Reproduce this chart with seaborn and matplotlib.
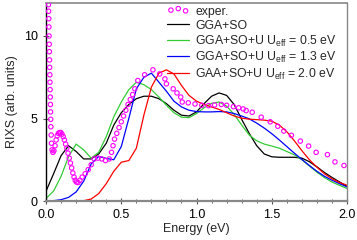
import numpy as np
import pandas as pd
import matplotlib
matplotlib.use('Agg')
import matplotlib.pyplot as plt
import seaborn as sns

# ── Data ──────────────────────────────────────────────────
energy = [0.00, 0.05, 0.10, 0.15, 0.20, 0.25, 0.30, 0.35, 0.40, 0.45,
          0.50, 0.55, 0.60, 0.65, 0.70, 0.75, 0.80, 0.85, 0.90, 0.95,
          1.00, 1.05, 1.10, 1.15, 1.20, 1.25, 1.30, 1.35, 1.40, 1.45,
          1.50, 1.55, 1.60, 1.65, 1.70, 1.75, 1.80, 1.85, 1.90, 1.95, 2.00]

gga_so = [0.60, 1.65, 2.75, 3.35, 3.00, 2.55, 2.55, 2.85, 3.50, 4.60,
          5.35, 5.85, 6.20, 6.35, 6.35, 6.20, 5.90, 5.50, 5.20, 5.15,
          5.40, 5.90, 6.35, 6.55, 6.40, 5.85, 4.95, 4.10, 3.35, 2.85,
          2.68, 2.65, 2.65, 2.65, 2.60, 2.38, 2.07, 1.73, 1.43, 1.16, 0.88]

u_05 = [0.16, 0.60, 1.50, 2.70, 3.45, 3.10, 2.60, 2.95, 3.90, 5.10,
        6.00, 6.75, 7.20, 7.05, 6.75, 6.30, 5.80, 5.35, 5.08, 5.05,
        5.30, 5.65, 5.92, 6.00, 5.75, 5.25, 4.60, 4.00, 3.65, 3.45,
        3.33, 3.20, 3.00, 2.80, 2.50, 2.12, 1.75, 1.42, 1.15, 0.95, 0.76]

u_13 = [0.00, 0.02, 0.08, 0.22, 0.55, 1.20, 2.25, 2.70, 2.58, 2.50,
        3.30, 5.00, 6.80, 7.50, 7.75, 7.20, 6.65, 6.05, 5.70, 5.50,
        5.42, 5.40, 5.40, 5.42, 5.40, 5.30, 5.15, 4.98, 4.72, 4.42,
        4.08, 3.70, 3.30, 2.90, 2.52, 2.15, 1.80, 1.50, 1.26, 1.05, 0.86]

u_20 = [0.00, 0.00, 0.00, 0.00, 0.00, 0.02, 0.12, 0.45, 1.05, 1.80,
        2.35, 2.45, 3.20, 5.20, 6.90, 7.75, 7.95, 7.70, 7.00, 6.40,
        6.05, 5.85, 5.70, 5.55, 5.35, 5.15, 5.02, 4.96, 4.93, 4.90,
        4.84, 4.60, 4.20, 3.65, 3.05, 2.50, 2.05, 1.65, 1.35, 1.12, 0.96]

exp_e = [0.016, 0.017, 0.018, 0.019, 0.020, 0.021, 0.022, 0.023, 0.024, 0.025,
         0.026, 0.027, 0.028, 0.029, 0.030, 0.031, 0.032, 0.034, 0.036, 0.040,
         0.046, 0.052, 0.060, 0.067, 0.074, 0.082, 0.090, 0.098, 0.106, 0.114,
         0.122, 0.130, 0.138, 0.146, 0.154, 0.162, 0.170, 0.178, 0.186, 0.194,
         0.202, 0.212, 0.225, 0.240, 0.260, 0.280, 0.300, 0.320, 0.345, 0.370,
         0.395, 0.420, 0.435, 0.445, 0.455, 0.470, 0.485, 0.500, 0.515, 0.530,
         0.545, 0.560, 0.575, 0.590, 0.610, 0.655, 0.710, 0.755, 0.790, 0.800,
         0.845, 0.870, 0.895, 0.905, 0.945, 0.990, 1.035, 1.080, 1.120, 1.165,
         1.200, 1.245, 1.280, 1.310, 1.330, 1.370, 1.430, 1.490, 1.540, 1.580,
         1.630, 1.690, 1.745, 1.795, 1.870, 1.920, 1.980]
exp_i = [11.90, 11.50, 11.05, 10.55, 10.00, 9.50, 9.05, 8.55, 8.10, 7.65,
         7.20, 6.75, 6.30, 5.85, 5.40, 4.95, 4.50, 4.00, 3.50, 3.10,
         2.95, 3.05, 3.35, 3.70, 3.95, 4.10, 4.15, 4.15, 4.05, 3.90,
         3.70, 3.45, 3.20, 2.90, 2.60, 2.30, 2.00, 1.70, 1.45, 1.25,
         1.15, 1.12, 1.25, 1.45, 1.65, 1.90, 2.20, 2.55, 2.60, 2.55,
         2.45, 2.55, 2.95, 3.35, 3.75, 4.10, 4.45, 4.80, 5.15, 5.50,
         5.85, 6.15, 6.45, 6.80, 7.30, 7.65, 7.95, 7.70, 7.40, 7.10,
         6.80, 6.55, 6.30, 6.00, 5.95, 5.88, 5.80, 5.78, 5.82, 5.85,
         5.80, 5.72, 5.65, 5.58, 5.48, 5.38, 5.08, 4.80, 4.53, 4.24,
         3.98, 3.63, 3.33, 2.95, 2.81, 2.37, 2.15]

# ── Style ─────────────────────────────────────────────────
sns.set_style('ticks')
plt.rcParams['font.family'] = ['Liberation Sans', 'DejaVu Sans']
plt.rcParams['mathtext.fontset'] = 'custom'
plt.rcParams['mathtext.rm'] = 'Liberation Sans'
plt.rcParams['mathtext.it'] = 'Liberation Sans'

fig, ax = plt.subplots(figsize=(3.57, 2.40), dpi=100)
fig.subplots_adjust(left=0.129, right=0.972, top=0.9875, bottom=0.1625)

sns.scatterplot(x=exp_e, y=exp_i, ax=ax, marker='o', s=10,
                facecolor='none', edgecolor='#ff00ff', linewidth=0.8,
                label='exper.', zorder=3)
sns.lineplot(x=energy, y=gga_so, ax=ax, color='black', lw=0.9, label='GGA+SO')
sns.lineplot(x=energy, y=u_05, ax=ax, color='#33cc33', lw=0.9,
             label=r'GGA+SO+U U$_{\rm eff}$ = 0.5 eV')
sns.lineplot(x=energy, y=u_13, ax=ax, color='#0000ff', lw=0.9,
             label=r'GGA+SO+U U$_{\rm eff}$ = 1.3 eV')
sns.lineplot(x=energy, y=u_20, ax=ax, color='#ff0000', lw=0.9,
             label=r'GAA+SO+U U$_{\rm eff}$ = 2.0 eV')

ax.set_xlim(0, 2.0)
ax.set_ylim(0, 12)
ax.set_xticks([0.0, 0.5, 1.0, 1.5, 2.0])
ax.set_xticks(np.arange(0, 2.01, 0.1), minor=True)
ax.set_yticks([0, 5, 10])
ax.xaxis.set_major_formatter(matplotlib.ticker.FormatStrFormatter('%.1f'))
ax.tick_params(axis='both', which='major', direction='inout', length=5,
               width=0.8, labelsize=9, colors='#555555', labelcolor='black')
ax.tick_params(axis='x', which='minor', direction='inout', length=3,
               width=0.6, colors='#555555')
ax.set_xlabel('Energy (eV)', fontsize=9, labelpad=1)
ax.set_ylabel('RIXS (arb. units)', fontsize=9, labelpad=4)

for side in ['top', 'right', 'bottom']:
    ax.spines[side].set_color('#888888')
ax.spines['bottom'].set_linewidth(1.6)
ax.spines['top'].set_linewidth(1.2)
ax.spines['right'].set_linewidth(1.0)
ax.spines['left'].set_color('black')
ax.spines['left'].set_linewidth(1.0)

# handleheight evens out the rows with and without subscripts
ax.legend(loc='upper right', bbox_to_anchor=(0.975, 1.005), frameon=False,
          fontsize=8.8, scatterpoints=3, handlelength=1.8, handletextpad=0.5,
          handleheight=1.15, labelspacing=0.12, borderaxespad=0.0,
          borderpad=0.2)

fig.savefig('out.png', dpi=100)
